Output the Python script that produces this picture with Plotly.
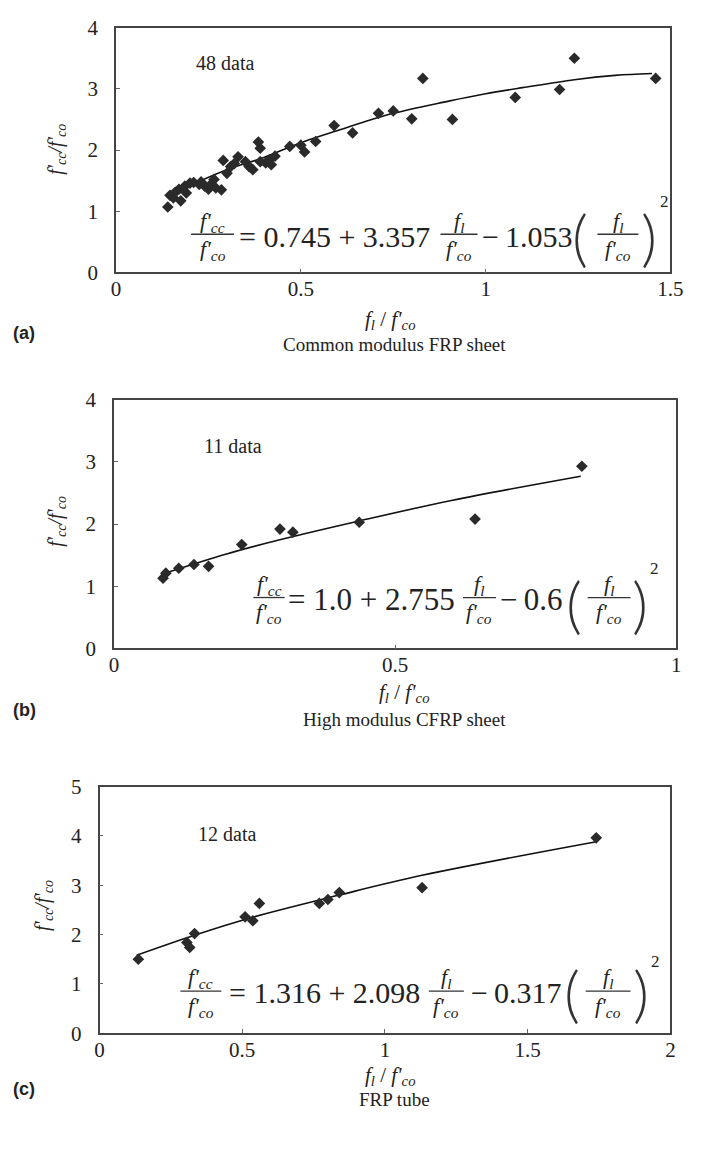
import plotly.graph_objects as go

W, H = 701, 1151
INK = "#222222"
SERIF = "Liberation Serif, Times New Roman, serif"

# ---------------- data ----------------
# (a) Common modulus FRP sheet, 48 data
a_x = [0.14, 0.146, 0.155, 0.16, 0.175, 0.17, 0.186, 0.19, 0.2, 0.21, 0.225, 0.23, 0.24,
       0.25, 0.255, 0.265, 0.27, 0.285, 0.29, 0.3, 0.31, 0.32, 0.33, 0.35, 0.36, 0.37,
       0.385, 0.39, 0.39, 0.405, 0.415, 0.42, 0.43, 0.47, 0.50, 0.51, 0.54, 0.59, 0.64,
       0.71, 0.75, 0.80, 0.83, 0.91, 1.08, 1.20, 1.24, 1.46]
a_y = [1.07, 1.26, 1.22, 1.31, 1.17, 1.36, 1.41, 1.30, 1.46, 1.47, 1.44, 1.48, 1.41,
       1.36, 1.43, 1.52, 1.38, 1.35, 1.83, 1.62, 1.73, 1.78, 1.89, 1.81, 1.73, 1.68,
       2.13, 2.03, 1.81, 1.79, 1.84, 1.76, 1.90, 2.06, 2.08, 1.97, 2.14, 2.40, 2.28,
       2.60, 2.64, 2.51, 3.17, 2.50, 2.86, 2.99, 3.50, 3.17]
a_fit_x = [0.145, 0.2, 0.3, 0.4, 0.5, 0.6, 0.75, 0.9, 1.0, 1.1, 1.24, 1.35, 1.45]
a_fit_y = [1.25, 1.42, 1.68, 1.88, 2.12, 2.32, 2.60, 2.80, 2.92, 3.02, 3.15, 3.22, 3.25]

# (b) High modulus CFRP sheet, 11 data
b_x = [0.087, 0.092, 0.115, 0.142, 0.168, 0.227, 0.295, 0.318, 0.436, 0.642, 0.832]
b_y = [1.13, 1.21, 1.29, 1.35, 1.32, 1.67, 1.92, 1.87, 2.03, 2.08, 2.93]
b_fit_x = [0.087, 0.2, 0.3, 0.436, 0.6, 0.83]
b_fit_y = [1.20, 1.52, 1.76, 2.05, 2.38, 2.77]

# (c) FRP tube, 12 data
c_x = [0.136, 0.306, 0.316, 0.333, 0.51, 0.537, 0.56, 0.77, 0.80, 0.84, 1.13, 1.74]
c_y = [1.50, 1.84, 1.74, 2.02, 2.36, 2.28, 2.63, 2.63, 2.71, 2.85, 2.95, 3.96]
c_fit_x = [0.13, 0.33, 0.53, 0.84, 1.13, 1.74]
c_fit_y = [1.58, 1.98, 2.34, 2.80, 3.20, 3.88]

a_xticks = [0, 0.5, 1, 1.5]
b_xticks = [0, 0.5, 1]
c_xticks = [0, 0.5, 1, 1.5, 2]
ab_yticks = [0, 1, 2, 3, 4]
c_yticks = [0, 1, 2, 3, 4, 5]

counts = ["48 data", "11 data", "12 data"]
captions = ["Common modulus FRP sheet", "High modulus CFRP sheet", "FRP tube"]
panel_tags = ["(a)", "(b)", "(c)"]
coeffs = [("0.745", "3.357", "1.053"), ("1.0", "2.755", "0.6"), ("1.316", "2.098", "0.317")]

# panel boxes in pixels: (x0, x1, ytop, ybottom)
boxes = [(114, 683, 16, 266), (112, 689, 396, 650), (97, 683, 791, 1043)]
xranges = [[0, 1.5], [0, 1], [0, 2]]
yranges = [[0, 4], [0, 4], [0, 5]]

fig = go.Figure()

sets = [(a_x, a_y, a_fit_x, a_fit_y), (b_x, b_y, b_fit_x, b_fit_y), (c_x, c_y, c_fit_x, c_fit_y)]
for i, (px, py, fx, fy) in enumerate(sets):
    sx = "x" if i == 0 else f"x{i+1}"
    sy = "y" if i == 0 else f"y{i+1}"
    fig.add_trace(go.Scatter(x=fx, y=fy, mode="lines", line=dict(color="#111111", width=1.6, shape="spline"),
                             xaxis=sx, yaxis=sy, showlegend=False, hoverinfo="skip"))
    fig.add_trace(go.Scatter(x=px, y=py, mode="markers",
                             marker=dict(symbol="diamond", size=9, color="#2a2a2a"),
                             xaxis=sx, yaxis=sy, showlegend=False))

xtick_sets = [a_xticks, b_xticks, c_xticks]
ytick_sets = [ab_yticks, ab_yticks, c_yticks]
layout = {}
for i, (x0, x1, yt, yb) in enumerate(boxes):
    xk = "xaxis" if i == 0 else f"xaxis{i+1}"
    yk = "yaxis" if i == 0 else f"yaxis{i+1}"
    ax_common = dict(showline=True, mirror=True, linecolor="#444444", linewidth=1.6,
                     ticks="inside", ticklen=4, tickcolor="#666666", showgrid=False, zeroline=False,
                     tickfont=dict(family=SERIF, size=21, color=INK), fixedrange=True)
    layout[xk] = dict(domain=[x0 / W, x1 / W], range=xranges[i], tickvals=xtick_sets[i],
                      ticktext=[f"{v:g}" for v in xtick_sets[i]],
                      anchor="y" if i == 0 else f"y{i+1}", ticklabelstandoff=-3, **ax_common)
    layout[yk] = dict(domain=[1 - yb / H, 1 - yt / H], range=yranges[i], tickvals=ytick_sets[i],
                      anchor="x" if i == 0 else f"x{i+1}", ticklabelstandoff=12, **ax_common)

annotations = []
shapes = []


def text(s, x, y, size, xanchor="center", yanchor="middle", family=SERIF, angle=0, color=INK, weight=None):
    font = dict(family=family, size=size, color=color)
    if weight is not None:
        font["weight"] = weight
    annotations.append(dict(text=s, x=x / W, y=1 - y / H, xref="paper", yref="paper", showarrow=False,
                            xanchor=xanchor, yanchor=yanchor, textangle=angle, font=font))


def frac(num, den, cx, cy, w, size=22):
    text(num, cx, cy - 13, size)
    text(den, cx, cy + 16, size)
    shapes.append(dict(type="line", xref="paper", yref="paper", x0=(cx - w / 2) / W, x1=(cx + w / 2) / W,
                       y0=1 - cy / H, y1=1 - cy / H, line=dict(color="#333333", width=1.3)))


FCC = "<i>f'<sub>cc</sub></i>"
FCO = "<i>f'<sub>co</sub></i>"
FL = "<i>f<sub>l</sub></i>"
PAREN_FONT = "Lato, Liberation Sans, sans-serif"

# equation layouts (pixel positions)
eq_pos = [
    dict(f1=(213, 227, 44), t1=(238, 229), fs=30, f2=(466, 227, 38), t2=(488, 229), lp=(590, 229),
         f3=(629, 227, 42), rp=(661, 229), sq=(677, 194)),
    dict(f1=(271, 598, 32), t1=(288, 600), fs=31, f2=(487, 598, 34), t2=(506, 600), lp=(584, 604),
         f3=(620, 598, 44), rp=(652, 604), sq=(667, 568)),
    dict(f1=(201, 1000, 42), t1=(228, 1001), fs=30, f2=(453, 1000, 36), t2=(476, 1001), lp=(582, 1001),
         f3=(619, 1000, 46), rp=(653, 1001), sq=(668, 970)),
]
for i, p in enumerate(eq_pos):
    c0, c1, c2 = coeffs[i]
    frac(FCC, FCO, *p["f1"])
    text(f"= {c0} + {c1}", p["t1"][0], p["t1"][1], p["fs"], xanchor="left")
    frac(FL, FCO, *p["f2"])
    text(f"\u2212\u2009{c2}", p["t2"][0], p["t2"][1], p["fs"], xanchor="left")
    text("(", p["lp"][0], p["lp"][1], 62, family=PAREN_FONT, color="#333333", weight=300)
    frac(FL, FCO, *p["f3"])
    text(")", p["rp"][0], p["rp"][1], 62, family=PAREN_FONT, color="#333333", weight=300)
    text("2", p["sq"][0], p["sq"][1], 17)

# counts
for s, (x, y) in zip(counts, [(226, 52), (234, 443), (228, 840)]):
    text(s, x, y, 20)

# axis titles, tags, captions
xt_pos = [(395, 315), (410, 695), (395, 1087)]
yt_pos = [(52, 140), (52, 520), (40, 912)]
tag_pos = [(20, 328), (20, 713), (20, 1100)]
cap_pos = [(400, 340), (410, 723), (400, 1111)]
for i in range(3):
    text(f"{FL} / {FCO}", xt_pos[i][0], xt_pos[i][1], 21)
    text(f"<i>f'<sub>cc</sub>/f'<sub>co</sub></i>", yt_pos[i][0], yt_pos[i][1], 20, angle=-90)
    text(f"<b>{panel_tags[i]}</b>", tag_pos[i][0], tag_pos[i][1], 18, family="Liberation Sans, Arial, sans-serif")
    text(captions[i], cap_pos[i][0], cap_pos[i][1], 19)

fig.update_layout(width=W, height=H, margin=dict(l=0, r=0, t=0, b=0),
                  paper_bgcolor="white", plot_bgcolor="white",
                  annotations=annotations, shapes=shapes, **layout)

fig.write_html("out.html", config={"displayModeBar": False},
               post_script="document.body.style.margin='0';")
